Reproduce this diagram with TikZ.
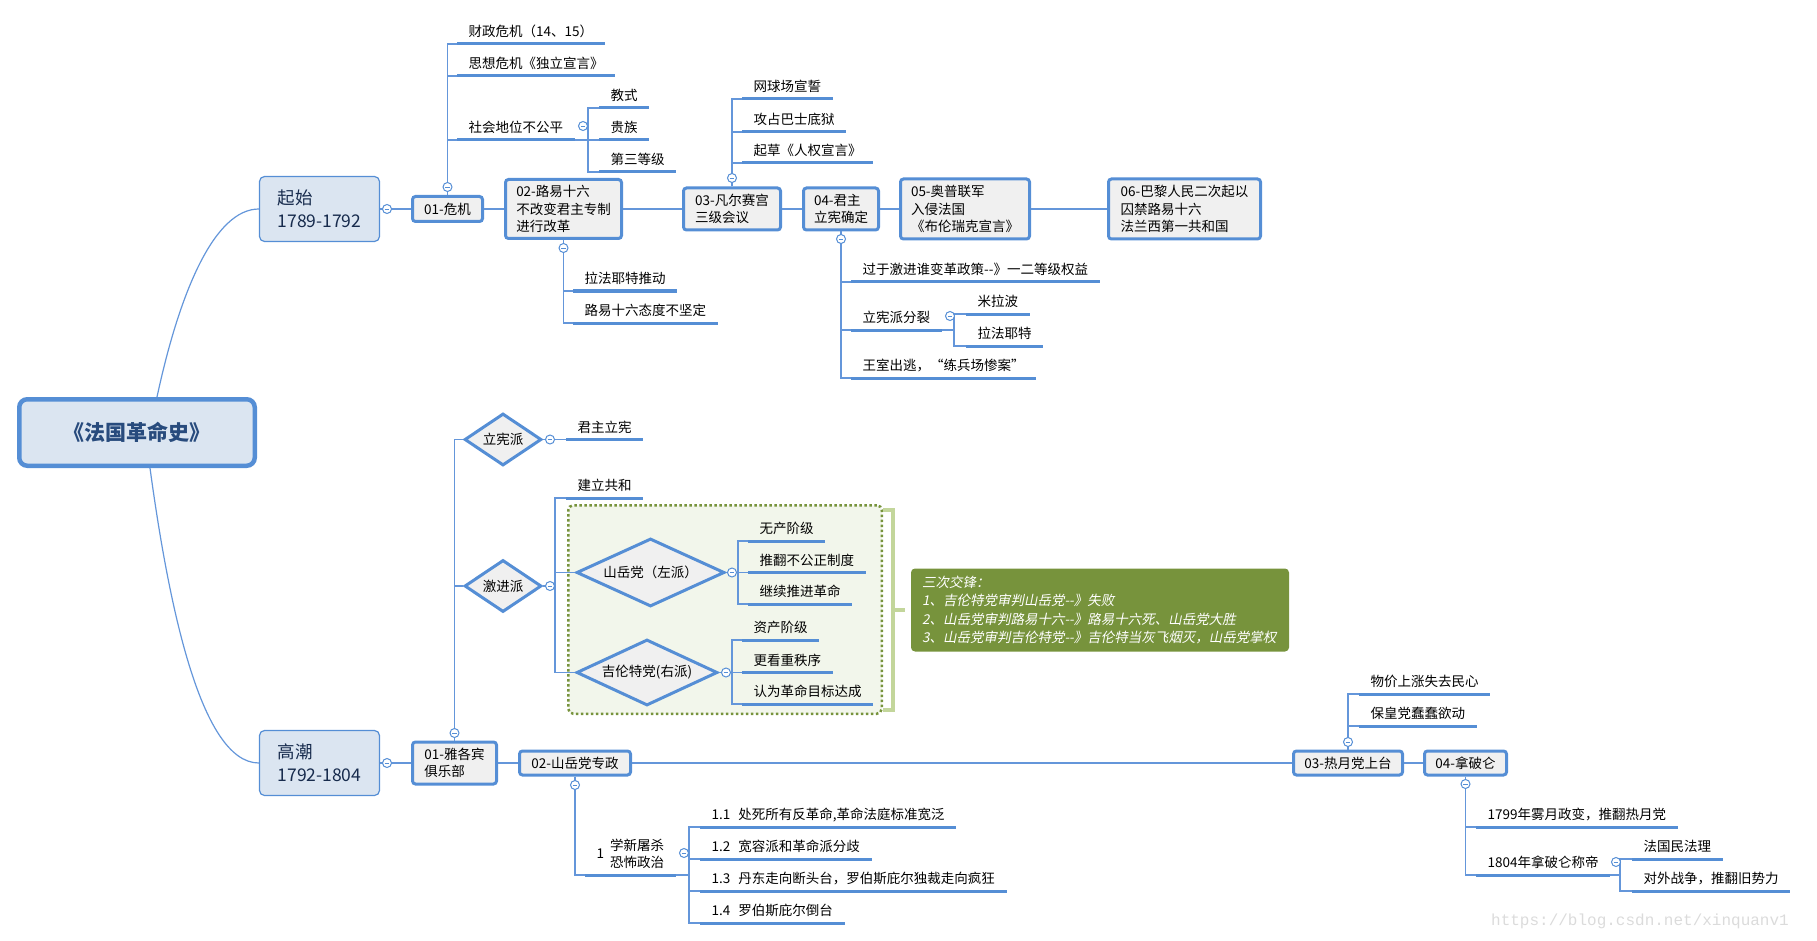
\documentclass[tikz,border=0pt]{standalone}
\usepackage{fontspec}
\setmainfont{Noto Sans CJK SC}
\newfontfamily\noteit{Noto Sans CJK SC}[FakeSlant=0.2]
\newfontfamily\wmfont{Liberation Mono}
\usetikzlibrary{shapes.geometric}

\definecolor{lineblue}{RGB}{85,142,213}
\definecolor{connblue}{RGB}{100,150,218}
\definecolor{boxgray}{RGB}{240,240,240}
\definecolor{erafill}{RGB}{219,229,241}
\definecolor{rootblue}{RGB}{40,75,125}
\definecolor{navy}{RGB}{23,43,77}
\definecolor{olive}{RGB}{119,147,60}
\definecolor{groupfill}{RGB}{242,246,235}
\definecolor{bracketgreen}{RGB}{195,214,155}

\tikzset{
  conn/.style={draw=connblue, line width=1.2pt},
  uline/.style={draw=lineblue, line width=3pt},
  rootbox/.style={draw=lineblue, line width=4.5pt, fill=erafill, rounded corners=8pt,
    minimum width=235.5pt, minimum height=66.5pt, text=rootblue,
    font=\fontsize{21}{25}\selectfont\bfseries},
  era/.style={draw=lineblue, line width=1.2pt, fill=erafill, rounded corners=5pt,
    minimum width=120pt, minimum height=65pt, align=left, text=navy,
    font=\fontsize{17.5}{23}\selectfont},
  topic/.style={draw=lineblue, line width=3pt, fill=boxgray, rounded corners=3pt,
    inner sep=0pt, align=left},
  faction/.style={diamond, draw=lineblue, line width=3pt, fill=boxgray, inner sep=0pt},
  leaf/.style={anchor=south west, inner xsep=11.5pt, inner ysep=0pt, text depth=7pt},
  foldmark/.style={circle, draw=lineblue, line width=1pt, fill=white, minimum size=9pt,
    inner sep=0pt, path picture={\draw[lineblue, line width=0.8pt]
      ([xshift=-2.3pt]path picture bounding box.center) --
      ([xshift=2.3pt]path picture bounding box.center);}},
  groupbox/.style={draw=olive, fill=groupfill, line width=2.5pt,
    dash pattern=on 2.5pt off 2.5pt, rounded corners=5pt},
  bracketline/.style={draw=bracketgreen, line width=4pt},
  notebox/.style={fill=olive, text=white, rounded corners=4pt, align=left,
    text width=356pt, inner xsep=11pt, minimum height=83pt,
    font=\noteit\fontsize{13.5}{18.3}\selectfont},
  watermark/.style={text=gray!28, font=\wmfont\fontsize{16}{18}\selectfont}
}

\begin{document}
\begin{tikzpicture}[x=1pt,y=-1pt,font=\fontsize{13.5}{17.5}\selectfont]
\useasboundingbox (0,0) rectangle (1817,941);

\node[rootbox] (root) at (137,432.5) {《法国革命史》};
\node[era] (start) at (319.5,209) {起始\\1789-1792};
\node[era] (peak) at (319.5,763) {高潮\\1792-1804};

\node[topic, minimum width=70pt, minimum height=25pt] (crisis) at (447.5,209) {01-危机};
\node[topic, minimum width=116pt, minimum height=59pt] (louis) at (563.5,209) {02-路易十六\\不改变君主专制\\进行改革};
\node[topic, minimum width=97pt, minimum height=42pt] (estates) at (732,209) {03-凡尔赛宫\\三级会议};
\node[topic, minimum width=75pt, minimum height=42pt] (constmon) at (841,209) {04-君主\\立宪确定};
\node[topic, minimum width=129pt, minimum height=60pt] (invasion) at (965,209) {05-奥普联军\\入侵法国\\《布伦瑞克宣言》};
\node[topic, minimum width=152pt, minimum height=60pt] (firstrep) at (1184.5,209) {06-巴黎人民二次起以\\囚禁路易十六\\法兰西第一共和国};

\node[topic, minimum width=84pt, minimum height=42pt] (club) at (454.5,763) {01-雅各宾\\俱乐部};
\node[topic, minimum width=111pt, minimum height=24pt] (mtrule) at (575,763) {02-山岳党专政};
\node[topic, minimum width=109pt, minimum height=24pt] (thermidor) at (1348,763) {03-热月党上台};
\node[topic, minimum width=82pt, minimum height=24pt] (napoleon) at (1465.5,763) {04-拿破仑};

\node[groupbox, minimum width=313.5pt, minimum height=208.5pt] (group) at (725,609.5) {};
\node[faction, aspect=1.48, minimum width=77pt, minimum height=52pt] (constit) at (503,439.5) {立宪派};
\node[faction, aspect=1.48, minimum width=77pt, minimum height=52pt] (radicals) at (503,586) {激进派};
\node[faction, aspect=2.18, minimum width=148pt, minimum height=68pt] (mountain) at (650.5,572.5) {山岳党（左派）};
\node[faction, aspect=2.14, minimum width=141pt, minimum height=66pt] (giro) at (647,672.5) {吉伦特党(右派)};

\node[leaf] (fin) at (457,44) {财政危机（14、15）};
\node[leaf] (idea) at (457,76) {思想危机《独立宣言》};
\node[leaf] (rank) at (457,140) {社会地位不公平};
\node[leaf] (clergy) at (599,108) {教式};
\node[leaf] (noble) at (599,140) {贵族};
\node[leaf] (third) at (599,172) {第三等级};
\node[leaf] (lafa) at (573,291) {拉法耶特推动};
\node[leaf] (waver) at (573,323) {路易十六态度不坚定};
\node[leaf] (oath) at (742,99) {网球场宣誓};
\node[leaf] (bast) at (742,132) {攻占巴士底狱};
\node[leaf] (rights) at (742,163) {起草《人权宣言》};
\node[leaf] (radical) at (851,282) {过于激进谁变革政策-{}-》一二等级权益};
\node[leaf] (split) at (851,330) {立宪派分裂};
\node[leaf] (mira) at (966,314) {米拉波};
\node[leaf] (lafb) at (966,346) {拉法耶特};
\node[leaf] (flight) at (851,378) {王室出逃，“练兵场惨案”};

\node[leaf] (monarchy) at (566,439.5) {君主立宪};
\node[leaf] (republic) at (566,498) {建立共和};
\node[leaf] (prol) at (748,541) {无产阶级};
\node[leaf] (overt) at (748,572.5) {推翻不公正制度};
\node[leaf] (onward) at (748,604) {继续推进革命};
\node[leaf] (bourg) at (742,640) {资产阶级};
\node[leaf] (order) at (742,672.5) {更看重秩序};
\node[leaf] (done) at (742,704) {认为革命目标达成};
\node[leaf, text depth=, inner ysep=2pt] (terror) at (585,875) {1\hspace{6pt}\begin{tabular}{@{}l@{}}学新屠杀\\恐怖政治\end{tabular}};
\node[leaf] (tA) at (700,827) {1.1\hspace{8pt}处死所有反革命,革命法庭标准宽泛};
\node[leaf] (tB) at (700,859) {1.2\hspace{8pt}宽容派和革命派分歧};
\node[leaf] (tC) at (700,891) {1.3\hspace{8pt}丹东走向断头台，罗伯斯庇尔独裁走向疯狂};
\node[leaf] (tD) at (700,923) {1.4\hspace{8pt}罗伯斯庇尔倒台};
\node[leaf] (price) at (1359,694) {物价上涨失去民心};
\node[leaf] (royal) at (1359,726) {保皇党蠢蠢欲动};
\node[leaf] (coup) at (1476,827) {1799年雾月政变，推翻热月党};
\node[leaf] (emperor) at (1476,875) {1804年拿破仑称帝};
\node[leaf] (code) at (1632,859) {法国民法理};
\node[leaf] (war) at (1632,891) {对外战争，推翻旧势力};

\node[notebox] (note) at (1100,610) {三次交锋：\\1、吉伦特党审判山岳党-{}-》失败\\2、山岳党审判路易十六-{}-》路易十六死、山岳党大胜\\3、山岳党审判吉伦特党-{}-》吉伦特当灰飞烟灭，山岳党掌权};

\coordinate (jrank) at (588,140);
\coordinate (jsplit) at (954,330);
\coordinate (jrad) at (555,586);
\coordinate (jmount) at (738,572.5);
\coordinate (jgiro) at (732,672.5);
\coordinate (jterror) at (689,875);
\coordinate (jemp) at (1620,875);
\coordinate (bt) at (883,510);
\coordinate (bb) at (883,710);
\coordinate (bm) at (893,610);

\draw[conn] ([xshift=20pt]root.north) .. controls (180,290) and (215,209) .. (start.west);
\draw[conn] ([xshift=13pt]root.south) .. controls (168,600) and (200,763) .. (peak.west);
\foreach \a/\b in {start/crisis,crisis/louis,louis/estates,estates/constmon,constmon/invasion,invasion/firstrep,peak/club,club/mtrule,mtrule/thermidor,thermidor/napoleon}
  \draw[conn] (\a) -- (\b);

\foreach \n in {fin,idea,rank} \draw[conn] (crisis.north) |- (\n.south west);
\draw[conn] (rank.south east) -- (noble.south west);
\foreach \n in {clergy,third} \draw[conn] (jrank) |- (\n.south west);
\foreach \n in {lafa,waver} \draw[conn] (louis.south) |- (\n.south west);
\foreach \n in {oath,bast,rights} \draw[conn] (estates.north) |- (\n.south west);
\foreach \n in {radical,split,flight} \draw[conn] (constmon.south) |- (\n.south west);
\draw[conn] (split.south east) -- (jsplit);
\foreach \n in {mira,lafb} \draw[conn] (jsplit) |- (\n.south west);

\foreach \n in {constit,radicals} \draw[conn] (club.north) |- (\n.west);
\draw[conn] (constit.east) -- (monarchy.south west);
\draw[conn] (radicals.east) -- (jrad);
\foreach \n in {republic.south west,mountain.west,giro.west} \draw[conn] (jrad) |- (\n);
\draw[conn] (mountain.east) -- (overt.south west);
\foreach \n in {prol,onward} \draw[conn] (jmount) |- (\n.south west);
\draw[conn] (giro.east) -- (order.south west);
\foreach \n in {bourg,done} \draw[conn] (jgiro) |- (\n.south west);
\draw[conn] (mtrule.south) |- (terror.south west);
\draw[conn] (terror.south east) -- (jterror);
\foreach \n in {tA,tB,tC,tD} \draw[conn] (jterror) |- (\n.south west);
\foreach \n in {price,royal} \draw[conn] (thermidor.north) |- (\n.south west);
\foreach \n in {coup,emperor} \draw[conn] (napoleon.south) |- (\n.south west);
\draw[conn] (emperor.south east) -- (jemp);
\foreach \n in {code,war} \draw[conn] (jemp) |- (\n.south west);

\draw[bracketline] (bt) -| (bm) |- (bb);
\draw[bracketline, shorten >=6pt] (bm) -- (note.west);

\foreach \n in {fin,idea,rank,clergy,noble,third,lafa,waver,oath,bast,rights,radical,split,mira,lafb,flight,monarchy,republic,prol,overt,onward,bourg,order,done,terror,tA,tB,tC,tD,price,royal,coup,emperor,code,war}
  \draw[uline] (\n.south west) -- (\n.south east);

\foreach \n/\x/\y in {fstart/387/209,fpeak/387/763,fcrisis/447.5/187,flouis/563.5/248,festates/732/178,fconst/841/239,frank/583/126,fsplit/950/316,fclub/454.5/733,fconstit/550/439.5,fradicals/550/586,fmount/732/572.5,fgiro/726/672.5,fmtrule/575/785,fterror/684/853,fthermidor/1348/742,fnapoleon/1465.5/784,femp/1616/862}
  \node[foldmark] (\n) at (\x,\y) {};

\node[watermark] (wm) at (1640,921) {https://blog.csdn.net/xinquanv1};
\end{tikzpicture}
\end{document}
